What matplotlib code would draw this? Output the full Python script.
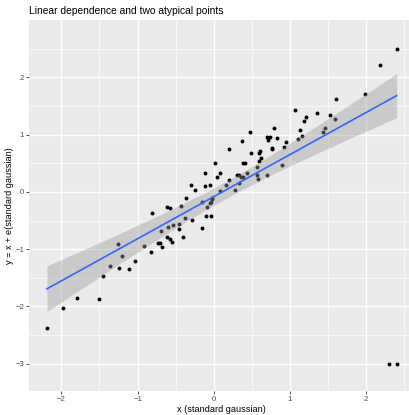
import matplotlib
matplotlib.use("Agg")
import matplotlib.pyplot as plt
import numpy as np

plt.rcParams['font.family'] = ['Liberation Sans', 'DejaVu Sans']

# x values (standard gaussian)
x = [-2.19, -1.98, -1.79, -1.51, -1.45, -1.36, -1.26, -1.24, -1.21, -1.11,
     -1.03, -0.92, -0.82, -0.81, -0.73, -0.70, -0.69, -0.68, -0.61, -0.61,
     -0.58, -0.60, -0.57, -0.55, -0.53, -0.46, -0.46, -0.43, -0.41, -0.38,
     -0.36, -0.30, -0.29, -0.24, -0.16, -0.15, -0.12, -0.12, -0.10, -0.04,
     -0.09, -0.05, -0.02, -0.02, -0.04, -0.05, 0.01, 0.04, 0.08, 0.08,
     0.16, 0.20, 0.20, 0.28, 0.30, 0.33, 0.33, 0.36, 0.39, 0.37,
     0.39, 0.41, 0.43, 0.48, 0.49, 0.57, 0.57, 0.58, 0.59, 0.59,
     0.61, 0.62, 0.70, 0.70, 0.71, 0.74, 0.76, 0.77, 0.79, 0.83,
     0.89, 0.92, 0.95, 1.07, 1.10, 1.13, 1.16, 1.19, 1.21, 1.36,
     1.43, 1.46, 1.52, 1.59, 1.60, 1.98, 2.18, 2.40, 2.30, 2.40]

# y = x + noise, with the two atypical points at the end
y = [-2.37, -2.02, -1.85, -1.87, -1.47, -1.29, -0.91, -1.33, -1.12, -1.35,
     -1.20, -0.94, -1.05, -0.37, -0.89, -0.89, -0.68, -0.97, -0.78, -0.26,
     -0.28, -0.62, -0.83, -0.87, -0.57, -0.56, -0.65, -0.24, -0.79, -0.46,
     -0.11, 0.12, -0.49, 0.04, -0.63, -0.17, 0.33, 0.10, -0.42, -0.42,
     -0.26, 0.12, -0.10, -0.13, -0.17, -0.19, 0.51, 0.26, 0.33, 0.02,
     0.12, 0.20, 0.74, 0.03, 0.29, 0.30, 0.16, 0.26, 0.26, 0.89,
     0.51, 0.50, 0.33, 1.05, 0.67, 0.44, 0.30, 0.22, 0.54, 0.67,
     0.72, 0.59, 0.29, 0.96, 0.91, 0.96, 0.74, 0.77, 1.12, 0.94,
     0.47, 0.79, 0.87, 1.43, 0.92, 1.08, 0.97, 1.23, 1.30, 1.37,
     1.05, 1.11, 1.35, 1.28, 1.62, 1.71, 2.22, 2.50, -3.00, -3.00]

xa = np.array(x)
ya = np.array(y)
n = len(xa)

# least squares fit with 95% confidence band
slope, icpt = np.polyfit(xa, ya, 1)
resid = ya - (icpt + slope * xa)
s = np.sqrt(np.sum(resid ** 2) / (n - 2))
sxx = np.sum((xa - xa.mean()) ** 2)
xs = np.linspace(xa.min(), xa.max(), 80)
fit = icpt + slope * xs
se = s * np.sqrt(1.0 / n + (xs - xa.mean()) ** 2 / sxx)
tcrit = 1.984
lo = fit - tcrit * se
hi = fit + tcrit * se

fig = plt.figure(figsize=(4.10, 4.15), dpi=100)
ax = fig.add_axes([0.0707, 0.0586, 0.9395, 0.8933])
ax.set_facecolor('#EBEBEB')

ax.scatter(xa, ya, s=8, color='black', linewidths=0, zorder=3)
ax.fill_between(xs, lo, hi, color='#999999', alpha=0.4, linewidth=0, zorder=4)
ax.plot(xs, fit, color='#3366FF', lw=1.2, zorder=5)

ax.set_xlim(-2.425, 2.63)
ax.set_ylim(-3.47, 3.0)
ax.set_xticks([-2, -1, 0, 1, 2])
ax.set_yticks([-3, -2, -1, 0, 1, 2])
ax.set_xticks([-1.5, -0.5, 0.5, 1.5, 2.5], minor=True)
ax.set_yticks([-2.5, -1.5, -0.5, 0.5, 1.5, 2.5], minor=True)
ax.grid(True, which='major', color='white', lw=1.0, zorder=0)
ax.grid(True, which='minor', color='white', lw=0.5, zorder=0)
ax.set_axisbelow(True)
for sp in ax.spines.values():
    sp.set_visible(False)
ax.tick_params(which='major', length=2, width=0.6, color='#333333',
               labelsize=5.6, labelcolor='#4D4D4D', pad=1.5)
ax.tick_params(which='minor', length=0)

ax.set_xlabel('x (standard gaussian)', fontsize=6.6, labelpad=2)
ax.set_ylabel('y = x + e(standard gaussian)', fontsize=6.6, labelpad=1)
ax.set_title('Linear dependence and two atypical points', fontsize=7.4,
             loc='left', pad=4)

fig.savefig('out.png', dpi=100)
